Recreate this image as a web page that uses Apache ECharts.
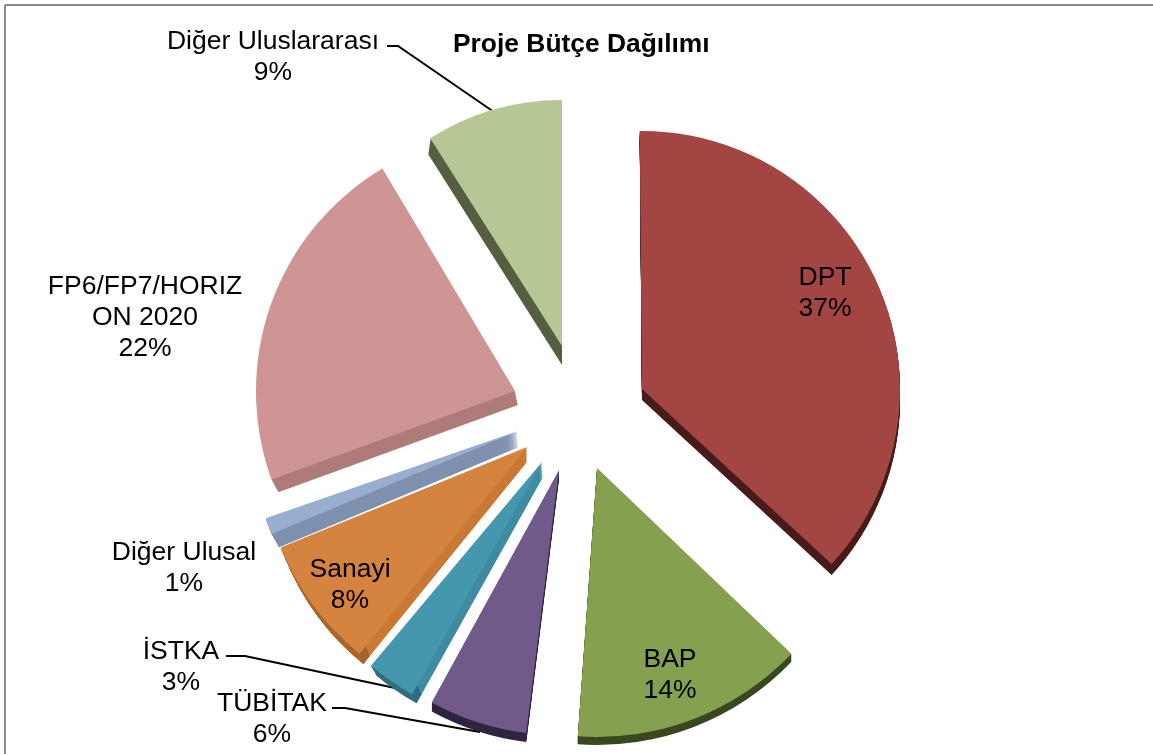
<!DOCTYPE html>
<html>
<head>
<meta charset="utf-8" />
<script src="https://cdn.jsdelivr.net/npm/echarts@6/dist/echarts.min.js"></script>
<style>
  html, body { margin: 0; padding: 0; width: 100%; height: 100%; background: #fff; overflow: hidden; }
  #chart { width: 1153px; height: 754px; }
</style>
</head>
<body>
<div id="chart"></div>
<script>
// values, clockwise from 12 o'clock
const categories = ['DPT', 'BAP', 'TÜBİTAK', 'İSTKA', 'Sanayi', 'Diğer Ulusal', 'FP6/FP7/HORIZ\nON 2020', 'Diğer Uluslararası'];
const shares = [37, 14, 6, 3, 8, 1, 22, 9];

// colours per slice
const faceColors = ['#A24543', '#85A04E', '#6F5A8A', '#4497AD', '#D5843F', '#98AED1', '#CE9594', '#B5C795'];
const sideColors = ['#471B19', '#3B4720', '#302541', '#3E8CA2', '#C97934', '#7F91B0', '#AF7B79', '#555F40'];
const rimColors = ['#471B19', '#3B4720', '#302541', '#2B5F6E', '#9C5F2A', '#7F91B0', '#AF7B79', '#555F40'];

// exploded layout: [cx, cy, r] of the top face and of the extruded bottom, rotation tweak in degrees
const faceGeom = [[642, 389, 258], [597, 468, 269], [559, 470, 265], [542, 462, 266], [527, 447, 266], [518, 431, 267], [515, 391, 259], [562, 346, 246]];
const sideGeom = [[642, 400, 258], [597, 476, 269], [559, 479, 265], [543, 477, 259], [527, 462, 260], [519, 447, 260], [518, 405, 255], [562, 365, 250]];
const tweak = [-0.5, 0.5, 3.5, 4, 3, 2.5, 1.6, 0];
const extrudeSteps = [10, 10, 10, 20, 20, 40, 10, 10];

// label centres and leader lines
const labelPos = [[825, 293], [670, 675], [272, 719], [181, 667], [350, 585], [184, 568], [145, 318], [273, 57]];
const leaders = {
  2: [[332, 708], [345, 708], [480, 732]],
  3: [[226, 656], [245, 656], [395, 688]],
  7: [[387, 46], [398, 46], [494, 112]]
};

const total = shares.reduce((a, b) => a + b, 0);
const series = [];
let cum = 0;

function slicePie(idx, geom, color, start, inner, withLabel) {
  const value = shares[idx];
  return {
    type: 'pie',
    silent: true,
    animation: false,
    clockwise: true,
    startAngle: start,
    minAngle: 0,
    center: [geom[0], geom[1]],
    radius: [inner, geom[2]],
    avoidLabelOverlap: false,
    emphasis: { disabled: true },
    label: { show: false },
    labelLine: { show: false },
    labelLayout: withLabel ? function () {
      return {
        x: labelPos[idx][0],
        y: labelPos[idx][1],
        align: 'center',
        verticalAlign: 'middle',
        labelLinePoints: leaders[idx]
      };
    } : undefined,
    data: [
      {
        value: value,
        name: categories[idx],
        itemStyle: { color: color },
        label: withLabel ? {
          show: true,
          position: 'outside',
          formatter: '{b}\n{c}%',
          fontFamily: 'Liberation Sans',
          fontSize: 26.5,
          lineHeight: 31,
          color: '#000',
          align: 'center'
        } : { show: false },
        labelLine: withLabel && leaders[idx] ? { show: true, lineStyle: { color: '#000', width: 2 } } : { show: false }
      },
      {
        value: total - value,
        name: '',
        itemStyle: { color: 'rgba(0,0,0,0)' },
        label: { show: false },
        labelLine: { show: false }
      }
    ]
  };
}

shares.forEach(function (v, i) {
  const start = 90 - (cum / total) * 360 - tweak[i];
  const f = faceGeom[i];
  const s = sideGeom[i];
  // sweep from the bottom up to the face so the edge reads as a solid wall
  for (let k = extrudeSteps[i]; k >= 1; k--) {
    const t = k / extrudeSteps[i];
    const g = [f[0] + (s[0] - f[0]) * t, f[1] + (s[1] - f[1]) * t, f[2] + (s[2] - f[2]) * t];
    series.push(slicePie(i, g, sideColors[i], start, 0, false));
    if (rimColors[i] !== sideColors[i]) {
      series.push(slicePie(i, g, rimColors[i], start, g[2] - 10, false));
    }
  }
  series.push(slicePie(i, f, faceColors[i], start, 0, true));
  cum += v;
});

const chart = echarts.init(document.getElementById('chart'));
chart.setOption({
  backgroundColor: '#fff',
  animation: false,
  title: {
    text: 'Proje Bütçe Dağılımı',
    left: 448,
    top: 27,
    textStyle: { fontFamily: 'Liberation Sans', fontSize: 26.4, fontWeight: 'bold', color: '#000' }
  },
  graphic: [
    { type: 'line', shape: { x1: 5, y1: 5, x2: 1153, y2: 5 }, style: { stroke: '#8a8a8a', lineWidth: 2 } },
    { type: 'line', shape: { x1: 5, y1: 5, x2: 5, y2: 754 }, style: { stroke: '#8a8a8a', lineWidth: 2 } }
  ],
  series: series
});
</script>
</body>
</html>
